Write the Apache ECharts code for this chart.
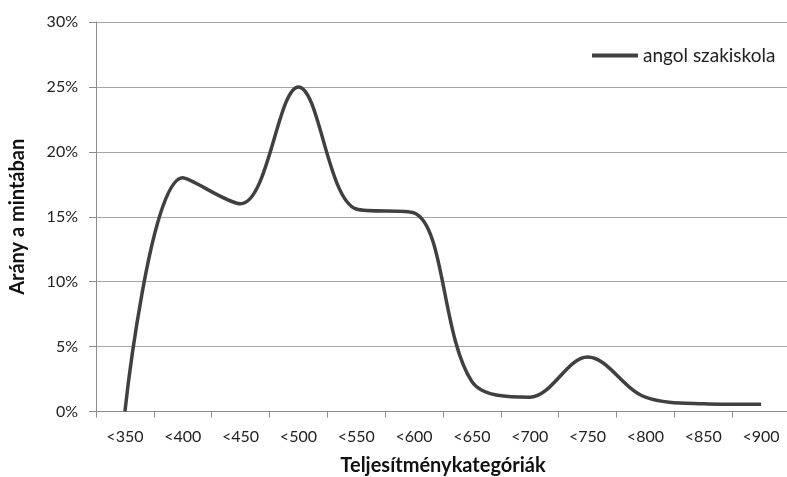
<!DOCTYPE html>
<html><head><meta charset="utf-8">
<script src="https://cdn.jsdelivr.net/npm/echarts@6/dist/echarts.min.js"></script>
<style>html,body{margin:0;padding:0;background:#fff}#c{width:787px;height:477px}</style>
</head><body><div id="c"></div>
<script>
var categories = ['<350','<400','<450','<500','<550','<600','<650','<700','<750','<800','<850','<900'];
var values = [0, 18.0, 16.0, 25.0, 15.6, 15.3, 2.3, 1.1, 4.2, 1.1, 0.6, 0.55];
var seriesName = 'angol szakiskola';
var yTicks = [0, 5, 10, 15, 20, 25, 30];
var font = 'Lato, "Open Sans", sans-serif';
var chart = echarts.init(document.getElementById('c'));
chart.setOption({
  animation: false,
  grid: {left: 96, top: 22, width: 694, height: 389.5, containLabel: false, outerBoundsMode: 'none'},
  legend: {
    left: 587, top: 41, icon: 'rect', itemWidth: 46, itemHeight: 4, itemGap: 4,
    textStyle: {fontFamily: font, fontSize: 19, color: '#222'},
    data: [seriesName]
  },
  xAxis: {
    type: 'category', data: categories, boundaryGap: true,
    axisLine: {lineStyle: {color: '#8c8c8c', width: 1}},
    axisTick: {show: true, length: 6, lineStyle: {color: '#8c8c8c'}, alignWithLabel: false},
    axisLabel: {fontFamily: font, fontSize: 16, color: '#222', margin: 17},
    name: 'Teljesítménykategóriák', nameLocation: 'middle', nameGap: 44,
    nameTextStyle: {fontFamily: font, fontSize: 20, fontWeight: 'bold', color: '#111'}
  },
  yAxis: {
    type: 'value', min: yTicks[0], max: yTicks[yTicks.length-1], interval: 5,
    axisLine: {show: true, lineStyle: {color: '#8c8c8c', width: 1}},
    axisTick: {show: true, length: 7, lineStyle: {color: '#8c8c8c'}},
    splitLine: {lineStyle: {color: '#a6a6a6', width: 1}},
    axisLabel: {fontFamily: font, fontSize: 16, color: '#222', margin: 18, formatter: '{value}%'},
    name: 'Arány a mintában', nameLocation: 'middle', nameGap: 68, nameRotate: 90,
    nameTextStyle: {fontFamily: font, fontSize: 20, fontWeight: 'bold', color: '#111'}
  },
  series: [{
    name: seriesName, type: 'line', data: values, smooth: 0.35,
    showSymbol: false, symbol: 'none',
    lineStyle: {color: '#404040', width: 3.5},
    itemStyle: {color: '#404040'}
  }]
});
</script></body></html>
